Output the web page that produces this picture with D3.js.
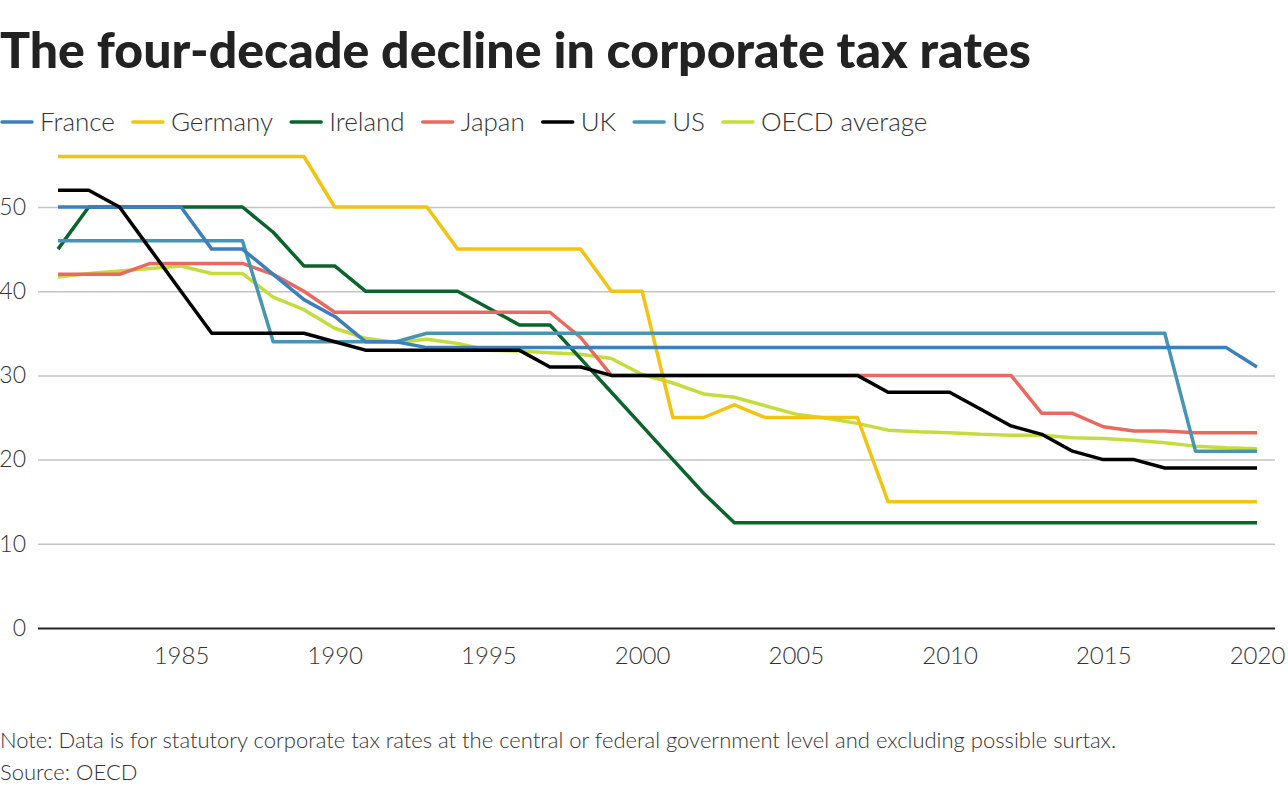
<!DOCTYPE html>
<html>
<head>
<meta charset="utf-8">
<script src="https://cdn.jsdelivr.net/npm/d3@7"></script>
<style>
  body { margin: 0; background: #fff; }
  svg text { font-family: Lato, "Noto Sans", sans-serif; fill: #333; }
  .title { font-weight: 900; fill: #222; }
  .lbl { font-weight: 300; }
</style>
</head>
<body>
<div id="vis"></div>
<script>
var width = 1288, height = 800;
var margin = {top: 156, right: 31, bottom: 172, left: 58};

var years = d3.range(1981, 2021);
var seriesNames = ['France', 'Germany', 'Ireland', 'Japan', 'UK', 'US', 'OECD average'];
var seriesColors = ['#3b7fbd', '#f2c30f', '#0a652c', '#ea6860', '#000000', '#4595b3', '#c6dc3c'];

// 1981 .. 2020
var france = [50, 50, 50, 50, 50, 45, 45, 42, 39, 37, 34, 34, 33.3, 33.3, 33.3, 33.3, 33.3, 33.3, 33.3, 33.3,
  33.3, 33.3, 33.3, 33.3, 33.3, 33.3, 33.3, 33.3, 33.3, 33.3, 33.3, 33.3, 33.3, 33.3, 33.3, 33.3, 33.3, 33.3, 33.3, 31];
var germany = [56, 56, 56, 56, 56, 56, 56, 56, 56, 50, 50, 50, 50, 45, 45, 45, 45, 45, 40, 40,
  25, 25, 26.5, 25, 25, 25, 25, 15, 15, 15, 15, 15, 15, 15, 15, 15, 15, 15, 15, 15];
var ireland = [45, 50, 50, 50, 50, 50, 50, 47, 43, 43, 40, 40, 40, 40, 38, 36, 36, 32, 28, 24,
  20, 16, 12.5, 12.5, 12.5, 12.5, 12.5, 12.5, 12.5, 12.5, 12.5, 12.5, 12.5, 12.5, 12.5, 12.5, 12.5, 12.5, 12.5, 12.5];
var japan = [42, 42, 42, 43.3, 43.3, 43.3, 43.3, 42, 40, 37.5, 37.5, 37.5, 37.5, 37.5, 37.5, 37.5, 37.5, 34.5, 30, 30,
  30, 30, 30, 30, 30, 30, 30, 30, 30, 30, 30, 30, 25.5, 25.5, 23.9, 23.4, 23.4, 23.2, 23.2, 23.2];
var uk = [52, 52, 50, 45, 40, 35, 35, 35, 35, 34, 33, 33, 33, 33, 33, 33, 31, 31, 30, 30,
  30, 30, 30, 30, 30, 30, 30, 28, 28, 28, 26, 24, 23, 21, 20, 20, 19, 19, 19, 19];
var us = [46, 46, 46, 46, 46, 46, 46, 34, 34, 34, 34, 34, 35, 35, 35, 35, 35, 35, 35, 35,
  35, 35, 35, 35, 35, 35, 35, 35, 35, 35, 35, 35, 35, 35, 35, 35, 35, 21, 21, 21];
var oecd = [41.7, 42.1, 42.4, 42.7, 43.0, 42.1, 42.1, 39.3, 37.8, 35.6, 34.4, 33.9, 34.3, 33.8, 33.0, 32.9, 32.7, 32.5, 32.0, 30.1,
  29.1, 27.8, 27.4, 26.4, 25.4, 24.9, 24.3, 23.5, 23.3, 23.2, 23.0, 22.9, 22.9, 22.6, 22.5, 22.3, 22.0, 21.6, 21.4, 21.3];
var seriesValues = [france, germany, ireland, japan, uk, us, oecd];

var yTicks = [0, 10, 20, 30, 40, 50];
var xTicks = [1985, 1990, 1995, 2000, 2005, 2010, 2015, 2020];

var svg = d3.select('#vis').append('svg')
    .attr('width', width)
    .attr('height', height);

svg.append('text')
   .attr('class', 'title')
   .attr('x', 0)
   .attr('y', 68)
   .attr('font-size', 50)
   .text('The four-decade decline in corporate tax rates');

// legend
var lx = 2;
seriesNames.forEach(function(name, i) {
  var g = svg.append('g').attr('transform', 'translate(' + lx + ',122)');
  g.append('line')
   .attr('x1', 0).attr('x2', 30)
   .attr('stroke', seriesColors[i])
   .attr('stroke-width', 3.5)
   .attr('stroke-linecap', 'round');
  var t = g.append('text')
   .attr('class', 'lbl')
   .attr('x', 38)
   .attr('y', 9)
   .attr('font-size', 26)
   .text(name);
  lx += 38 + t.node().getComputedTextLength() + 18;
});

var plotW = width - margin.left - margin.right;
var plotH = height - margin.top - margin.bottom;

var x = d3.scaleLinear().domain([1981, 2020]).range([0, 1199]);
var y = d3.scaleLinear().domain([0, 55]).range([plotH, plotH - 55 * 8.42]);

var plot = svg.append('g')
    .attr('transform', 'translate(' + margin.left + ',' + margin.top + ')');

// gridlines + y labels
var yAxis = plot.append('g')
    .call(d3.axisLeft(y).tickValues(yTicks).tickSize(-1237).tickPadding(12))
    .attr('transform', 'translate(-20,0)');
yAxis.select('.domain').remove();
yAxis.selectAll('.tick line')
     .attr('stroke', function(d) { return d === 0 ? '#222' : '#c4c4c4'; })
     .attr('stroke-width', function(d) { return d === 0 ? 2 : 1.5; });
yAxis.selectAll('.tick text')
     .attr('class', 'lbl')
     .attr('font-size', 23)
     .attr('fill', '#333');

var xAxis = plot.append('g')
    .attr('transform', 'translate(0,' + plotH + ')')
    .call(d3.axisBottom(x).tickValues(xTicks).tickFormat(d3.format('d')).tickSize(0).tickPadding(19));
xAxis.select('.domain').remove();
xAxis.selectAll('.tick text')
     .attr('class', 'lbl')
     .attr('font-size', 24)
     .attr('fill', '#333');

var line = d3.line()
    .x(function(d, i) { return x(years[i]); })
    .y(function(d) { return y(d); });

// draw order so the black UK line sits on top like the original
var order = [6, 1, 2, 3, 5, 0, 4];
order.forEach(function(i) {
  plot.append('path')
      .datum(seriesValues[i])
      .attr('fill', 'none')
      .attr('stroke', seriesColors[i])
      .attr('stroke-width', 3.5)
      .attr('stroke-linejoin', 'round')
      .attr('d', line);
});

svg.append('text')
   .attr('class', 'lbl')
   .attr('x', 0).attr('y', 748)
   .attr('font-size', 22)
   .text('Note: Data is for statutory corporate tax rates at the central or federal government level and excluding possible surtax.');
svg.append('text')
   .attr('class', 'lbl')
   .attr('x', 0).attr('y', 780)
   .attr('font-size', 22)
   .text('Source: OECD');
</script>
</body>
</html>
